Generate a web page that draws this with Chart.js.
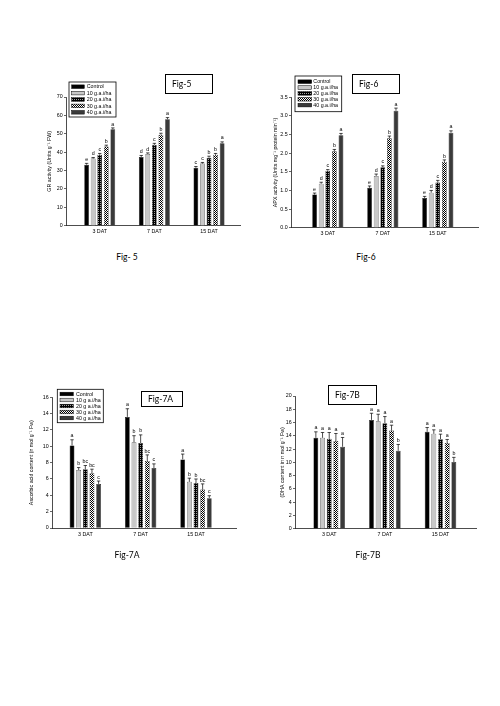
<!DOCTYPE html>
<html>
<head>
<meta charset="utf-8">
<script src="https://cdn.jsdelivr.net/npm/chart.js@4.4.0/dist/chart.umd.min.js"></script>
<style>
  body { margin: 0; background: #fff; }
  #page { position: relative; width: 500px; height: 706px; overflow: hidden; font-family: Lato, "Open Sans", sans-serif; color: #000; }
  #page canvas { position: absolute; }
  .figbox { position: absolute; border: 1px solid #000; box-sizing: border-box; font-size: 8.5px; padding-left: 6px; display: flex; align-items: center; }
  .caption { position: absolute; font-size: 8.5px; transform: translate(-50%, -50%); white-space: nowrap; }
</style>
</head>
<body>
<div id="page">
  <canvas id="fig5" width="230" height="180" style="left:20px;top:70px;width:230px;height:180px"></canvas>
  <canvas id="fig6" width="230" height="180" style="left:260px;top:70px;width:230px;height:180px"></canvas>
  <canvas id="fig7a" width="230" height="180" style="left:20px;top:380px;width:230px;height:180px"></canvas>
  <canvas id="fig7b" width="230" height="180" style="left:260px;top:380px;width:230px;height:180px"></canvas>

  <div class="figbox" style="left:165px;top:74px;width:48px;height:20px">Fig-5</div>
  <div class="figbox" style="left:352px;top:74px;width:48px;height:20px">Fig-6</div>
  <div class="figbox" style="left:141px;top:391px;width:42px;height:16px">Fig-7A</div>
  <div class="figbox" style="left:328px;top:385px;width:49px;height:20px">Fig-7B</div>

  <div class="caption" style="left:127px;top:257px">Fig- 5</div>
  <div class="caption" style="left:366px;top:257px">Fig-6</div>
  <div class="caption" style="left:127px;top:555px">Fig-7A</div>
  <div class="caption" style="left:368px;top:555px">Fig-7B</div>
</div>
<script>
// categories and legend labels
const days = ['3 DAT', '7 DAT', '15 DAT'];
const dosesDot = ['Control', '10 g.a.i/ha', '20 g.a.i/ha', '30 g.a.i/ha', '40 g.a.i/ha'];
const dosesSpace = ['Control', '10 g a.i/ha', '20 g a.i/ha', '30 g a.i/ha', '40 g a.i/ha'];

// Fig-5: GR activity
const grControl = [33.2, 37.4, 31.5];
const gr10 = [36.5, 39.0, 33.8];
const gr20 = [38.6, 44.0, 37.0];
const gr30 = [43.1, 49.5, 38.6];
const gr40 = [52.4, 57.9, 44.8];
const grErr = [[0.7, 0.8, 0.7], [0.6, 0.6, 0.6], [0.7, 0.8, 0.8], [0.7, 0.8, 0.7], [0.8, 0.9, 0.8]];
const grLetters = [['e', 'd', 'c'], ['d', 'd', 'c'], ['c', 'c', 'b'], ['b', 'b', 'b'], ['a', 'a', 'a']];

// Fig-6: APX activity
const apxControl = [0.89, 1.07, 0.80];
const apx10 = [1.18, 1.39, 0.94];
const apx20 = [1.53, 1.62, 1.21];
const apx30 = [2.05, 2.40, 1.77];
const apx40 = [2.48, 3.14, 2.55];
const apxErr = [[0.04, 0.05, 0.04], [0.04, 0.05, 0.06], [0.03, 0.04, 0.06], [0.05, 0.06, 0.05], [0.05, 0.07, 0.05]];
const apxLetters = [['e', 'e', 'e'], ['d', 'd', 'd'], ['c', 'c', 'c'], ['b', 'b', 'b'], ['a', 'a', 'a']];

// Fig-7A: ascorbic acid
const asaControl = [10.1, 13.6, 8.4];
const asa10 = [7.1, 10.5, 5.65];
const asa20 = [7.2, 10.4, 5.5];
const asa30 = [6.7, 8.2, 4.7];
const asa40 = [5.4, 7.35, 3.65];
const asaErr = [[0.7, 1.0, 0.65], [0.3, 0.8, 0.45], [0.45, 1.0, 0.5], [0.5, 0.75, 0.7], [0.35, 0.5, 0.3]];
const asaLetters = [['a', 'a', 'a'], ['b', 'b', 'b'], ['bc', 'b', 'b'], ['bc', 'bc', 'bc'], ['c', 'c', 'c']];

// Fig-7B: DHA
const dhaControl = [13.7, 16.4, 14.6];
const dha10 = [13.7, 16.2, 14.3];
const dha20 = [13.55, 15.9, 13.5];
const dha30 = [13.2, 14.8, 12.9];
const dha40 = [12.35, 11.75, 10.05];
const dhaErr = [[0.9, 1.0, 0.65], [0.8, 1.05, 0.6], [0.95, 1.0, 0.75], [1.15, 0.8, 0.55], [1.4, 0.95, 0.7]];
const dhaLetters = [['a', 'a', 'a'], ['a', 'a', 'a'], ['a', 'a', 'a'], ['a', 'a', 'a'], ['a', 'b', 'b']];

Chart.defaults.font.family = '"Liberation Sans", Arial, sans-serif';
Chart.defaults.font.size = 5.3;
Chart.defaults.color = '#000';

function tile(w, h, draw) {
    const c = document.createElement('canvas');
    c.width = w;
    c.height = h;
    draw(c.getContext('2d'));
    return c;
}

// bar fills: solid black, light grey, striped, checked, dark grey
function makeFills(ctx) {
    const stripes = ctx.createPattern(tile(2, 2, g => {
        g.fillStyle = '#000'; g.fillRect(0, 0, 2, 2);
        g.fillStyle = '#a0a0a0'; g.fillRect(0, 1, 1, 1);
    }), 'repeat');
    const checks = ctx.createPattern(tile(2, 2, g => {
        g.fillStyle = '#fff'; g.fillRect(0, 0, 2, 2);
        g.fillStyle = '#000'; g.fillRect(0, 0, 1, 1); g.fillRect(1, 1, 1, 1);
    }), 'repeat');
    return ['#000', '#c8c8c8', stripes, checks, '#3a3a3a'];
}

// error bars, letters and the boxed legend
function extras(cfg) {
    return {
        id: 'extras',
        afterDatasetsDraw(chart) {
            const ctx = chart.ctx;
            const y = chart.scales.y;
            ctx.save();
            ctx.strokeStyle = '#000';
            ctx.fillStyle = '#000';
            ctx.lineWidth = 0.7;
            ctx.font = '5.3px "Liberation Sans", Arial, sans-serif';
            ctx.textAlign = 'center';
            ctx.textBaseline = 'bottom';
            chart.data.datasets.forEach((ds, di) => {
                chart.getDatasetMeta(di).data.forEach((bar, i) => {
                    const top = y.getPixelForValue(ds.data[i].y + cfg.errors[di][i]);
                    ctx.beginPath();
                    ctx.moveTo(bar.x, bar.y);
                    ctx.lineTo(bar.x, top);
                    ctx.moveTo(bar.x - 1.7, top);
                    ctx.lineTo(bar.x + 1.7, top);
                    ctx.stroke();
                    ctx.fillText(cfg.letters[di][i], bar.x, top - 1.2);
                });
            });

            const L = cfg.legend;
            if (L) {
                ctx.lineWidth = 0.8;
                ctx.strokeRect(L.x, L.y, L.w, L.h);
                ctx.textAlign = 'left';
                ctx.textBaseline = 'middle';
                ctx.lineWidth = 0.5;
                chart.data.datasets.forEach((ds, di) => {
                    const ry = L.row0 + di * L.step;
                    ctx.fillStyle = ds.backgroundColor;
                    ctx.fillRect(L.sx, ry - 1.8, L.sw, 3.6);
                    ctx.strokeRect(L.sx, ry - 1.8, L.sw, 3.6);
                    ctx.fillStyle = '#000';
                    ctx.fillText(ds.label, L.tx, ry + 0.3);
                });
            }
            ctx.restore();
        }
    };
}

function buildChart(id, cfg) {
    const ctx = document.getElementById(id).getContext('2d');
    const fills = makeFills(ctx);
    return new Chart(ctx, {
        type: 'bar',
        data: {
            datasets: cfg.series.map((vals, di) => ({
                label: cfg.labels[di],
                data: vals.map((v, i) => ({ x: i + 1, y: v })),
                backgroundColor: fills[di],
                borderColor: '#000',
                borderWidth: 0.5,
                categoryPercentage: 0.6,
                barPercentage: 0.72
            }))
        },
        options: {
            responsive: false,
            animation: false,
            layout: { padding: cfg.pad },
            plugins: {
                legend: { display: false },
                tooltip: { enabled: false }
            },
            scales: {
                x: {
                    type: 'linear',
                    offset: false,
                    min: cfg.xMin,
                    max: cfg.xMax,
                    afterBuildTicks: s => { s.ticks = days.map((d, i) => ({ value: i + 1 })); },
                    afterFit: s => { s.height = 10; },
                    ticks: { autoSkip: false, maxRotation: 0, padding: 3, callback: v => days[v - 1] },
                    grid: { display: false, drawTicks: false },
                    border: { color: '#000', width: 0.7 }
                },
                y: {
                    min: 0,
                    max: cfg.yMax,
                    afterFit: s => { s.width = cfg.yWidth; },
                    ticks: { stepSize: cfg.yStep, padding: 1.3, callback: cfg.yFmt || (v => v) },
                    grid: { drawOnChartArea: false, tickLength: 2, color: '#000', lineWidth: 0.6 },
                    border: { color: '#000', width: 0.7 },
                    title: { display: true, text: cfg.yTitle, padding: 0 }
                }
            }
        },
        plugins: [extras(cfg)]
    });
}

buildChart('fig5', {
    series: [grControl, gr10, gr20, gr30, gr40],
    errors: grErr,
    letters: grLetters,
    labels: dosesDot,
    yMax: 70, yStep: 10,
    yTitle: 'GR activity (Units g\u207B\u00B9 FW)',
    yWidth: 20,
    xMin: 0.383, xMax: 3.567,
    pad: { left: 26, top: 27, right: 10, bottom: 14.3 },
    legend: { x: 49, y: 12, w: 47, h: 35, row0: 16.7, step: 6.4, sx: 51.7, sw: 12.6, tx: 66.7 }
});

buildChart('fig6', {
    series: [apxControl, apx10, apx20, apx30, apx40],
    errors: apxErr,
    letters: apxLetters,
    labels: dosesDot,
    yMax: 3.5, yStep: 0.5,
    yFmt: v => v.toFixed(1),
    yTitle: 'APX activity (Units mg\u207B\u00B9 protein min\u207B\u00B9)',
    yWidth: 19,
    xMin: 0.331, xMax: 3.731,
    pad: { left: 12, top: 27.3, right: 12, bottom: 12.3 },
    legend: { x: 35, y: 6, w: 46.7, h: 35.7, row0: 11.7, step: 5.85, sx: 38, sw: 13.7, tx: 53.3 }
});

buildChart('fig7a', {
    series: [asaControl, asa10, asa20, asa30, asa40],
    errors: asaErr,
    letters: asaLetters,
    labels: dosesSpace,
    yMax: 16, yStep: 2,
    yTitle: 'Ascorbic acid content (n mol g\u207B\u00B9 Fw)',
    yWidth: 23.5,
    xMin: 0.398, xMax: 3.723,
    pad: { left: 8.5, top: 17.3, right: 14, bottom: 22 },
    legend: { x: 37.3, y: 9.3, w: 46, h: 33.4, row0: 14, step: 6, sx: 40, sw: 13.3, tx: 56 }
});

buildChart('fig7b', {
    series: [dhaControl, dha10, dha20, dha30, dha40],
    errors: dhaErr,
    letters: dhaLetters,
    labels: dosesSpace,
    yMax: 20, yStep: 2,
    yTitle: '(DHA content in n mol g\u207B\u00B9 Fw)',
    yWidth: 16,
    xMin: 0.385, xMax: 3.638,
    pad: { left: 19, top: 16, right: 14, bottom: 21.3 }
});
</script>
</body>
</html>
